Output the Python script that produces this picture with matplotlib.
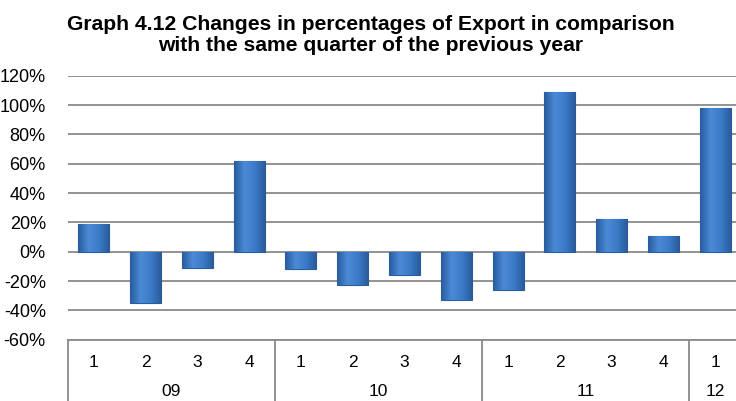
import numpy as np
import matplotlib
matplotlib.use("Agg")
import matplotlib.pyplot as plt
from matplotlib.colors import LinearSegmentedColormap
from matplotlib.ticker import FuncFormatter

# quarters and years of the category axis
quarters = ["1", "2", "3", "4", "1", "2", "3", "4", "1", "2", "3", "4", "1"]
years = ["09", "10", "11", "12"]
year_sizes = [4, 4, 4, 1]

# change vs same quarter of previous year, %
values = [19, -35, -11, 62, -12, -23, -16, -33, -26, 109, 22, 11, 98]

title = ("Graph 4.12 Changes in percentages of Export in comparison\n"
         "with the same quarter of the previous year")

plt.rcParams["font.family"] = ["Liberation Sans", "DejaVu Sans"]

fig = plt.figure(figsize=(7.36, 4.01), dpi=100)
W, H = 736, 401
left, right, top, bottom = 68, 741, 75.7, 339.7
ax = fig.add_axes([left / W, 1 - bottom / H, (right - left) / W, (bottom - top) / H])

x = np.arange(len(values))
bars = ax.bar(x, values, width=0.6, color="#3a78c4", edgecolor="#2b5d9c",
              linewidth=0.8, zorder=3)

# horizontal shading on each bar
cmap = LinearSegmentedColormap.from_list("bar", ["#2a5c9e", "#4a8ad6", "#3a7ac8", "#2a5a98"])
grad = np.linspace(0, 1, 64).reshape(1, -1)
for b in bars:
    x0, y0 = b.get_x(), b.get_y()
    w, h = b.get_width(), b.get_height()
    im = ax.imshow(grad, extent=[x0, x0 + w, y0, y0 + h], aspect="auto",
                   cmap=cmap, zorder=3.5, origin="lower")
    im.set_clip_path(b)

ax.set_xlim(-0.5, len(values) - 0.5)
ax.set_ylim(-60, 120)
ax.set_yticks(np.arange(-60, 121, 20))
ax.yaxis.set_major_formatter(FuncFormatter(lambda v, p: f"{v:.0f}%"))
ax.tick_params(axis="y", length=0, pad=16, labelsize=13)
ax.set_xticks([])
ax.grid(axis="y", color="#8a8a8a", linewidth=1.3, zorder=0)
for s in ["left", "right", "top"]:
    ax.spines[s].set_visible(False)
ax.spines["bottom"].set_color("#8a8a8a")
ax.spines["bottom"].set_linewidth(1.3)

# two-level category axis below the plot
trans = ax.get_xaxis_transform()
for xi, q in zip(x, quarters):
    ax.text(xi, -0.085, q, transform=trans, ha="center", va="center", fontsize=12.5)
start = 0
ax.plot([-0.5, -0.5], [0, -0.3], transform=trans, color="#8a8a8a", lw=1.3, clip_on=False)
for yr, n in zip(years, year_sizes):
    mid = start + (n - 1) / 2
    ax.text(mid, -0.198, yr, transform=trans, ha="center", va="center", fontsize=12.5)
    start += n
    ax.plot([start - 0.5, start - 0.5], [0, -0.3], transform=trans,
            color="#8a8a8a", lw=1.3, clip_on=False)

fig.text(371 / W, 1 - 35 / H, title, ha="center", va="center",
         fontsize=15.2, fontweight="bold", linespacing=1.12)

fig.savefig("out.png", dpi=100)
